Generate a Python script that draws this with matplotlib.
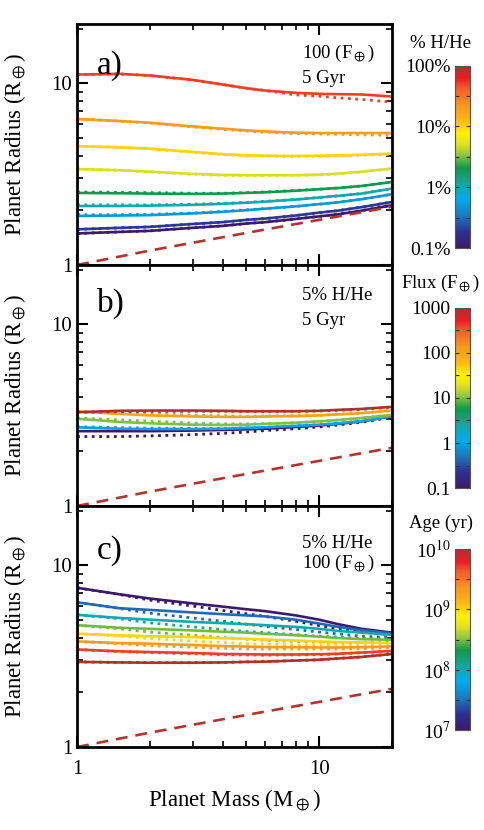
import numpy as np
import matplotlib
matplotlib.use('Agg')
import matplotlib.pyplot as plt
from matplotlib.colors import LinearSegmentedColormap, LogNorm
from matplotlib.cm import ScalarMappable
from matplotlib.ticker import FixedLocator, NullFormatter

matplotlib.rcParams['mathtext.fontset'] = 'stix'
matplotlib.rcParams['font.family'] = ['Liberation Serif', 'DejaVu Serif']

# planet mass grid (Earth masses)
mass = [1, 1.5, 2, 3, 4, 5, 6, 8, 10, 12, 15, 20]

# rocky core, no envelope
core_mass = [1, 2, 5, 10, 20]
core_radius = [1.0, 1.20, 1.50, 1.77, 2.09]

# a) 100 F_earth, 5 Gyr, varying H/He fraction (%)
hhe_frac = [0.1, 0.2, 0.5, 1, 2, 5, 10, 20, 50]
rad_a = [
    [1.49, 1.52, 1.54, 1.60, 1.64, 1.69, 1.72, 1.79, 1.85, 1.90, 1.99, 2.13],
    [1.57, 1.60, 1.62, 1.68, 1.72, 1.77, 1.80, 1.87, 1.94, 1.99, 2.08, 2.22],
    [1.86, 1.87, 1.88, 1.92, 1.96, 2.00, 2.04, 2.10, 2.16, 2.21, 2.30, 2.45],
    [2.11, 2.11, 2.12, 2.14, 2.17, 2.20, 2.23, 2.29, 2.35, 2.40, 2.47, 2.63],
    [2.49, 2.48, 2.47, 2.46, 2.47, 2.49, 2.51, 2.56, 2.61, 2.65, 2.72, 2.86],
    [3.37, 3.32, 3.26, 3.17, 3.13, 3.12, 3.12, 3.12, 3.14, 3.18, 3.26, 3.39],
    [4.50, 4.44, 4.36, 4.19, 4.07, 4.01, 3.99, 3.98, 3.99, 4.01, 4.04, 4.10],
    [6.35, 6.19, 6.06, 5.78, 5.62, 5.50, 5.43, 5.34, 5.32, 5.32, 5.32, 5.32],
    [11.16, 11.25, 11.02, 10.43, 9.83, 9.39, 9.11, 8.85, 8.74, 8.70, 8.67, 8.45],
]
rad_a_dot = [
    [1.49, 1.52, 1.54, 1.60, 1.64, 1.69, 1.72, 1.79, 1.85, 1.90, 1.99, 2.13],
    [1.57, 1.60, 1.62, 1.68, 1.72, 1.77, 1.80, 1.87, 1.94, 1.99, 2.08, 2.22],
    [1.89, 1.89, 1.90, 1.93, 1.97, 2.01, 2.04, 2.10, 2.16, 2.21, 2.30, 2.45],
    [2.14, 2.14, 2.14, 2.16, 2.18, 2.21, 2.24, 2.29, 2.35, 2.40, 2.47, 2.63],
    [2.52, 2.51, 2.50, 2.48, 2.48, 2.50, 2.52, 2.57, 2.61, 2.65, 2.72, 2.86],
    [3.37, 3.32, 3.25, 3.15, 3.11, 3.10, 3.10, 3.11, 3.13, 3.17, 3.25, 3.38],
    [4.50, 4.44, 4.35, 4.16, 4.04, 3.98, 3.96, 3.95, 3.96, 3.98, 4.01, 4.07],
    [6.35, 6.19, 6.04, 5.74, 5.57, 5.45, 5.38, 5.28, 5.25, 5.23, 5.20, 5.16],
    [11.16, 11.25, 11.02, 10.43, 9.83, 9.39, 9.11, 8.63, 8.48, 8.31, 8.14, 7.87],
]

# b) 5% H/He, 5 Gyr, varying incident flux (F_earth)
flux = [0.1, 1, 10, 100, 1000]
rad_b = [
    [2.58, 2.58, 2.58, 2.60, 2.62, 2.64, 2.66, 2.72, 2.77, 2.83, 2.92, 3.12],
    [2.71, 2.66, 2.65, 2.65, 2.66, 2.69, 2.71, 2.76, 2.80, 2.85, 2.93, 3.12],
    [3.02, 2.90, 2.85, 2.80, 2.79, 2.80, 2.83, 2.87, 2.92, 2.97, 3.05, 3.17],
    [3.31, 3.21, 3.15, 3.11, 3.09, 3.09, 3.11, 3.12, 3.15, 3.19, 3.24, 3.35],
    [3.28, 3.34, 3.35, 3.35, 3.34, 3.32, 3.32, 3.32, 3.34, 3.38, 3.42, 3.51],
]
rad_b_dot = [
    [2.41, 2.41, 2.43, 2.47, 2.51, 2.55, 2.60, 2.66, 2.72, 2.79, 2.89, 3.08],
    [2.73, 2.70, 2.68, 2.67, 2.67, 2.69, 2.71, 2.76, 2.80, 2.85, 2.93, 3.12],
    [3.05, 2.98, 2.93, 2.86, 2.83, 2.83, 2.84, 2.87, 2.92, 2.97, 3.05, 3.17],
    [3.28, 3.26, 3.22, 3.17, 3.14, 3.12, 3.13, 3.14, 3.15, 3.20, 3.25, 3.35],
    [3.28, 3.30, 3.31, 3.32, 3.32, 3.32, 3.32, 3.32, 3.33, 3.36, 3.40, 3.50],
]

# c) 5% H/He, 100 F_earth, varying age (yr)
age = [1e7, 3e7, 1e8, 3e8, 1e9, 2e9, 5e9, 1e10]
rad_c = [
    [7.52, 6.92, 6.56, 6.17, 5.92, 5.73, 5.59, 5.30, 5.02, 4.74, 4.47, 4.26],
    [6.25, 5.80, 5.68, 5.50, 5.38, 5.30, 5.23, 5.02, 4.78, 4.58, 4.39, 4.22],
    [5.34, 5.13, 5.02, 4.88, 4.80, 4.74, 4.68, 4.58, 4.47, 4.35, 4.26, 4.14],
    [4.68, 4.53, 4.47, 4.38, 4.31, 4.26, 4.20, 4.12, 4.05, 3.98, 3.92, 3.89],
    [4.20, 4.12, 4.07, 4.02, 3.97, 3.94, 3.90, 3.85, 3.81, 3.78, 3.76, 3.73],
    [3.81, 3.73, 3.70, 3.64, 3.59, 3.57, 3.55, 3.54, 3.53, 3.53, 3.54, 3.58],
    [3.44, 3.36, 3.33, 3.29, 3.25, 3.24, 3.23, 3.23, 3.24, 3.26, 3.31, 3.38],
    [2.94, 2.92, 2.91, 2.91, 2.92, 2.94, 2.95, 2.99, 3.02, 3.07, 3.13, 3.25],
]
rad_c_dot = [
    [7.52, 6.90, 6.43, 5.97, 5.64, 5.41, 5.23, 4.92, 4.66, 4.47, 4.29, 4.14],
    [6.25, 5.78, 5.45, 5.13, 4.92, 4.74, 4.61, 4.43, 4.29, 4.19, 4.07, 4.00],
    [5.34, 5.08, 4.82, 4.58, 4.43, 4.33, 4.26, 4.15, 4.07, 4.02, 3.95, 3.92],
    [4.68, 4.47, 4.29, 4.12, 4.00, 3.92, 3.87, 3.81, 3.78, 3.76, 3.75, 3.76],
    [4.20, 4.08, 3.95, 3.83, 3.76, 3.70, 3.68, 3.65, 3.64, 3.64, 3.64, 3.65],
    [3.81, 3.70, 3.61, 3.54, 3.49, 3.46, 3.46, 3.46, 3.46, 3.46, 3.47, 3.53],
    [3.44, 3.35, 3.31, 3.26, 3.22, 3.21, 3.20, 3.21, 3.22, 3.25, 3.30, 3.37],
    [2.94, 2.92, 2.91, 2.91, 2.92, 2.94, 2.95, 2.99, 3.02, 3.07, 3.13, 3.25],
]

cmap = LinearSegmentedColormap.from_list('hhe', [
    (0.00, '#3c1a6a'), (0.09, '#2e3192'), (0.17, '#1c75bc'),
    (0.27, '#00aeef'), (0.35, '#17a6a0'), (0.44, '#0f9a48'),
    (0.51, '#8dc63f'), (0.57, '#e3e11e'), (0.63, '#fff200'),
    (0.70, '#fdb913'), (0.79, '#f7941d'), (0.88, '#f15a29'),
    (0.93, '#ed1c24'), (1.00, '#b2302a')])

fig = plt.figure(figsize=(4.85, 8.30), dpi=100)

panels = [
    dict(bottom=0.6808, vals=hhe_frac, rad=rad_a, dot=rad_a_dot, norm=LogNorm(0.1, 100),
         tag='a)', tagy=0.826, txt=['100 (F$_\\oplus$)', '5 Gyr'], txty=[0.876, 0.773],
         cb=[0.701, 0.220], cbt=[0.1, 1, 10, 100], cbl=['0.1%', '1%', '10%', '100%'],
         title='% H/He', ty=43),
    dict(bottom=0.3904, vals=flux, rad=rad_b, dot=rad_b_dot, norm=LogNorm(0.1, 1000),
         tag='b)', tagy=0.84, txt=['5% H/He', '5 Gyr'], txty=[0.875, 0.77],
         cb=[0.412, 0.217], cbt=[0.1, 1, 10, 100, 1000], cbl=['0.1', '1', '10', '100', '1000'],
         title='Flux (F$_\\oplus$)', ty=283),
    dict(bottom=0.100, vals=age, rad=rad_c, dot=rad_c_dot, norm=LogNorm(1e7, 1e10),
         tag='c)', tagy=0.814, txt=['5% H/He', '100 (F$_\\oplus$)'], txty=[0.843, 0.76],
         cb=[0.120, 0.219], cbt=[1e7, 1e8, 1e9, 1e10],
         cbl=['10$^{7}$', '10$^{8}$', '10$^{9}$', '10$^{10}$'],
         title='Age (yr)', ty=523),
]

for i, p in enumerate(panels):
    ax = fig.add_axes([0.159, p['bottom'], 0.649, 0.2904])
    for v, r, d in zip(p['vals'], p['rad'], p['dot']):
        c = cmap(p['norm'](v))
        ax.plot(mass, r, '-', color=c, lw=1.9)
        ax.plot(mass, d, ':', color=c, lw=2.0)
    ax.plot(core_mass, core_radius, '--', color='#b5332a', lw=1.9, dashes=(4.5, 3))

    ax.set_xscale('log')
    ax.set_yscale('log')
    ax.set_xlim(1, 20)
    ax.set_ylim(1, 21.2)
    ax.set_yticks([1, 10], ['1', '10'])
    ax.yaxis.set_minor_formatter(NullFormatter())
    ax.set_xticks([1, 10], ['1', '10'])
    ax.xaxis.set_minor_formatter(NullFormatter())
    ax.tick_params(which='both', direction='in', top=True, right=True, labelsize=15)
    ax.tick_params(which='major', length=8, width=1.5)
    ax.tick_params(which='minor', length=4.5, width=1.2)
    ax.tick_params(axis='x', pad=9)
    if i < 2:
        ax.tick_params(labelbottom=False)
    for s in ax.spines.values():
        s.set_linewidth(2)
    ax.set_ylabel('Planet Radius (R$_\\oplus$)', fontsize=16.5)
    ax.yaxis.set_label_coords(-0.155, 0.5)

    ax.text(0.063, p['tagy'], p['tag'], transform=ax.transAxes, fontsize=24,
            ha='left', va='center')
    for t, ty in zip(p['txt'], p['txty']):
        ax.text(0.714, ty, t, transform=ax.transAxes, fontsize=13.5, ha='left', va='center')

    cax = fig.add_axes([0.938, p['cb'][0], 0.031, p['cb'][1]])
    cb = fig.colorbar(ScalarMappable(norm=p['norm'], cmap=cmap), cax=cax)
    cb.outline.set_linewidth(0.8)
    cb.outline.set_edgecolor('#555555')
    cb.set_ticks(p['cbt'], labels=p['cbl'])
    half = [t * 10 ** 0.5 for t in p['cbt'][:-1]]
    cax.yaxis.set_minor_locator(FixedLocator(half))
    cax.yaxis.set_minor_formatter(NullFormatter())
    cax.tick_params(which='both', direction='in', left=True, right=True,
                    labelleft=True, labelright=False, length=3, width=0.8,
                    color='#333333', labelsize=14, pad=3)
    fig.text(441 / 485, 1 - p['ty'] / 830, p['title'], fontsize=13.5,
             ha='center', va='center')

ax.set_xlabel('Planet Mass (M$_\\oplus$)', fontsize=16.5, labelpad=6)

fig.savefig('out.png', dpi=100)
